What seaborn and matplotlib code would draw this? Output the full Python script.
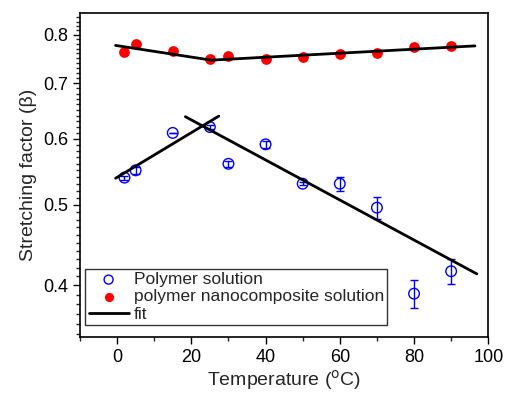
import numpy as np
import pandas as pd
import matplotlib
matplotlib.use("Agg")
import matplotlib.pyplot as plt
import seaborn as sns
from matplotlib.ticker import FixedLocator, NullFormatter, FixedFormatter

sns.set_style("ticks")
plt.rcParams['font.family'] = ['Liberation Sans', 'DejaVu Sans']

T = [2, 5, 15, 25, 30, 40, 50, 60, 70, 80, 90]
beta_polymer = [0.539, 0.550, 0.610, 0.620, 0.560, 0.591, 0.530, 0.530, 0.496, 0.391, 0.416]
err_polymer = [0.003, 0.005, 0.0, 0.003, 0.005, 0.006, 0.002, 0.010, 0.015, 0.015, 0.014]
beta_nano = [0.763, 0.780, 0.765, 0.749, 0.754, 0.748, 0.753, 0.759, 0.760, 0.774, 0.776]

fit1_T = [-0.4, 27.4]
fit1_beta = [0.538, 0.639]
fit2_T = [18.4, 96.9]
fit2_beta = [0.638, 0.413]
fit3_T = [-0.4, 25.4, 96.4]
fit3_beta = [0.777, 0.746, 0.776]

df_p = pd.DataFrame({"T": T, "beta": beta_polymer})
df_n = pd.DataFrame({"T": T, "beta": beta_nano})

fig, ax = plt.subplots(figsize=(5.06, 3.93), dpi=100)
fig.subplots_adjust(left=0.158, right=0.965, top=0.967, bottom=0.143)

ax.errorbar(T, beta_polymer, yerr=err_polymer, fmt='none', ecolor='#0000ff',
            elinewidth=1, capsize=3, capthick=1, zorder=2)
sns.scatterplot(data=df_p, x="T", y="beta", ax=ax, marker='o', s=58,
                facecolors='none', edgecolor='#0000ff', linewidth=1,
                label="Polymer solution", zorder=3)
sns.scatterplot(data=df_n, x="T", y="beta", ax=ax, marker='o', s=60,
                color='#ff0000', edgecolor='#ff0000', linewidth=0,
                label="polymer nanocomposite solution", zorder=3)
sns.lineplot(x=fit1_T, y=fit1_beta, ax=ax, color='black', lw=2, label="fit",
             sort=False, estimator=None, zorder=4)
sns.lineplot(x=fit2_T, y=fit2_beta, ax=ax, color='black', lw=2, sort=False,
             estimator=None, zorder=4)
sns.lineplot(x=fit3_T, y=fit3_beta, ax=ax, color='black', lw=2, sort=False,
             estimator=None, zorder=4)

ax.set_yscale('log')
ax.set_xlim(-10, 100)
ax.set_ylim(0.347, 0.85)
major = [0.4, 0.5, 0.6, 0.7, 0.8]
ax.yaxis.set_major_locator(FixedLocator(major))
ax.yaxis.set_major_formatter(FixedFormatter([f"{v:.1f}" for v in major]))
minor = [round(0.35 + 0.01 * i, 2) for i in range(50)]
minor = [m for m in minor if m not in major and m <= 0.85]
ax.yaxis.set_minor_locator(FixedLocator(minor))
ax.yaxis.set_minor_formatter(NullFormatter())
ax.set_xticks([0, 20, 40, 60, 80, 100])
ax.set_xticks([-10, 10, 30, 50, 70, 90], minor=True)

ax.tick_params(axis='both', which='major', direction='out', length=5, width=1,
               labelsize=13, colors='black')
ax.tick_params(axis='both', which='minor', direction='out', length=3, width=1)
for s in ax.spines.values():
    s.set_linewidth(1.2)
    s.set_color('black')

ax.set_xlabel("Temperature ($^{\\rm o}$C)", fontsize=14, labelpad=2)
ax.set_ylabel("Stretching factor (β)", fontsize=14)

leg = ax.legend(loc='lower left', bbox_to_anchor=(0.0, 0.02), fontsize=12.5,
                frameon=True, fancybox=False, edgecolor='black', markerscale=0.85,
                handlelength=2.3, handletextpad=0.3, borderpad=0.2,
                labelspacing=0.12, borderaxespad=0.3)
leg.get_frame().set_linewidth(1)

fig.savefig("out.png", dpi=100)
